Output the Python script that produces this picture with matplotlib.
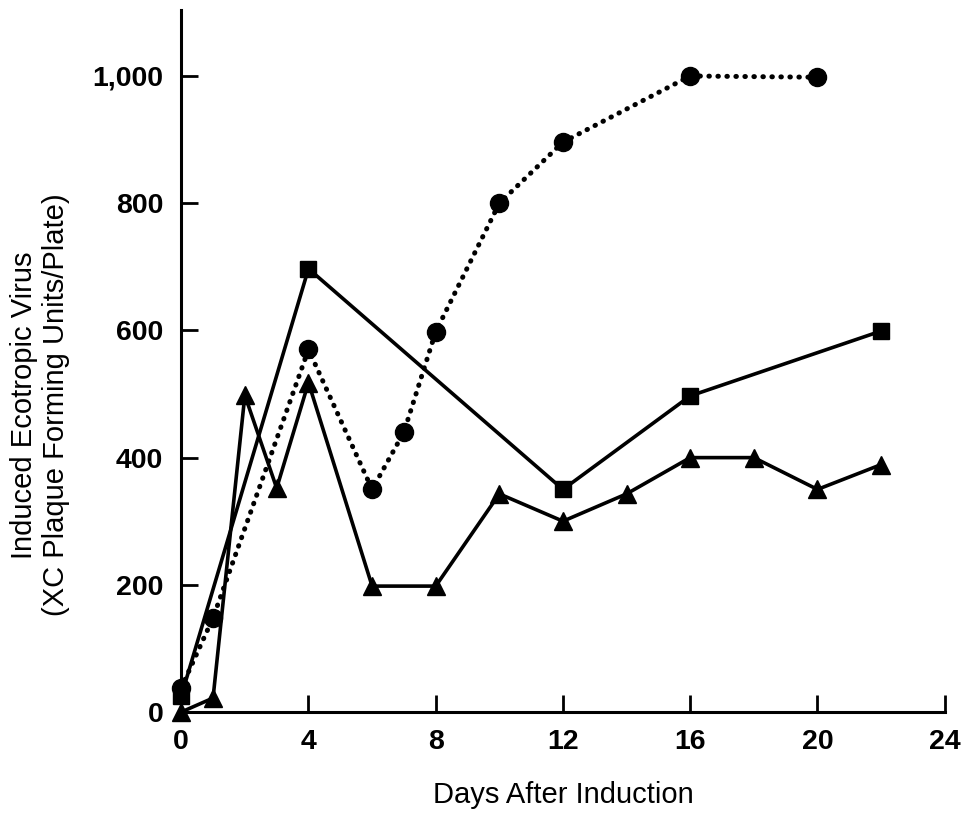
import matplotlib
matplotlib.use("Agg")
import matplotlib.pyplot as plt

# data
circle_days = [0, 1, 4, 6, 7, 8, 10, 12, 16, 20]
circle_pfu = [38, 148, 570, 350, 440, 598, 800, 896, 1000, 998]

square_days = [0, 4, 12, 16, 22]
square_pfu = [25, 697, 350, 497, 599]

triangle_days = [0, 1, 2, 3, 4, 6, 8, 10, 12, 14, 16, 18, 20, 22]
triangle_pfu = [0, 22, 498, 352, 518, 198, 198, 343, 300, 343, 400, 400, 350, 389]

x_ticks = [0, 4, 8, 12, 16, 20, 24]
y_ticks = [0, 200, 400, 600, 800, 1000]
y_tick_labels = ["0", "200", "400", "600", "800", "1,000"]

plt.rcParams["font.family"] = ["Liberation Sans", "DejaVu Sans"]

fig = plt.figure(figsize=(9.64, 8.19), dpi=100)
ax = fig.add_axes([0.188, 0.1306, 0.792, 0.8574])

ax.plot(circle_days, circle_pfu, color="black", linestyle=(0, (0.1, 1.7)),
        linewidth=3.6, dash_capstyle="round", marker="o", markersize=13,
        clip_on=False, zorder=3)
ax.plot(square_days, square_pfu, color="black", linewidth=2.6,
        marker="s", markersize=11, clip_on=False, zorder=3)
ax.plot(triangle_days, triangle_pfu, color="black", linewidth=2.6,
        marker="^", markersize=13, clip_on=False, zorder=3)

ax.set_xlim(0, 24)
ax.set_ylim(0, 1104)
ax.set_xticks(x_ticks)
ax.set_yticks(y_ticks)
ax.set_yticklabels(y_tick_labels)

for side in ["top", "right"]:
    ax.spines[side].set_visible(False)
for side in ["left", "bottom"]:
    ax.spines[side].set_linewidth(2.2)

ax.tick_params(direction="in", length=12, width=2, labelsize=20.5)
ax.tick_params(axis="x", pad=12)
ax.tick_params(axis="y", pad=13)
for lbl in ax.get_xticklabels() + ax.get_yticklabels():
    lbl.set_fontweight("bold")

ax.set_xlabel("Days After Induction", fontsize=21, labelpad=19)
ax.set_ylabel("Induced Ecotropic Virus\n(XC Plaque Forming Units/Plate)",
              fontsize=21, linespacing=1.2, va="center")
ax.yaxis.set_label_coords(-0.185, 0.437)

fig.savefig("out.png", dpi=100)
